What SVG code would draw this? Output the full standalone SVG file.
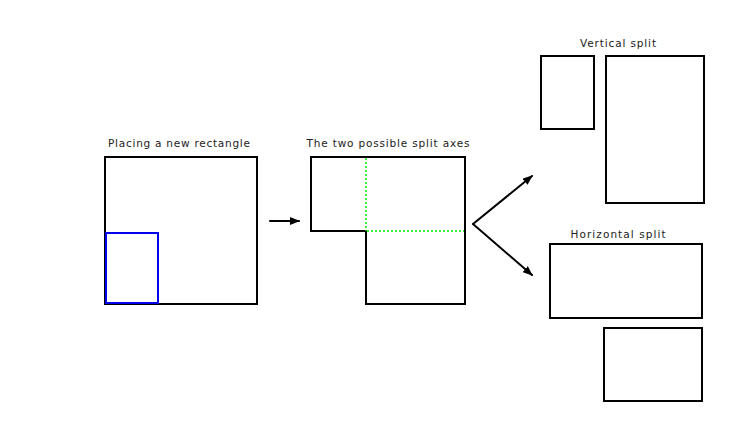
<svg xmlns="http://www.w3.org/2000/svg" width="739" height="423" viewBox="0 0 739 423">
<style>
.box{fill:none;stroke:#000;stroke-width:2}
.lbl{font-family:"DejaVu Sans",sans-serif;font-size:10.5px;fill:#222;text-anchor:middle}
.split{fill:none;stroke:#00ee00;stroke-width:1.5;stroke-dasharray:2 2}
.conn{fill:none;stroke:#000;stroke-width:2;stroke-linecap:round}
</style>
<defs>
<marker id="ah" markerWidth="10" markerHeight="8" refX="9" refY="4" orient="auto" markerUnits="userSpaceOnUse">
<path d="M0,0 L10,4 L0,8 Z" fill="#000"/>
</marker>
</defs>
<rect width="739" height="423" fill="#fff"/>
<g id="placing">
<text class="lbl" x="179" y="147" textLength="142">Placing a new rectangle</text>
<rect class="box" x="105" y="157" width="152" height="147"/>
<rect x="106" y="233" width="52" height="70" fill="none" stroke="#0000ee" stroke-width="2"/>
</g>
<g id="axes">
<text class="lbl" x="388" y="147" textLength="163">The two possible split axes</text>
<path class="box" d="M311,157 H465 V304 H366 V231 H311 Z"/>
<path class="split" d="M366,158 V231 M367,231 H464"/>
</g>
<g id="vertical">
<text class="lbl" x="618" y="47" textLength="76">Vertical split</text>
<rect class="box" x="541" y="56" width="53" height="73"/>
<rect class="box" x="606" y="56" width="98" height="147"/>
</g>
<g id="horizontal">
<text class="lbl" x="618" y="238" textLength="95">Horizontal split</text>
<rect class="box" x="550" y="244" width="152" height="74"/>
<rect class="box" x="604" y="328" width="98" height="73"/>
</g>
<g id="connectors">
<line class="conn" x1="270" y1="221" x2="299" y2="221" marker-end="url(#ah)"/>
<line class="conn" x1="473" y1="224" x2="532" y2="176" marker-end="url(#ah)"/>
<line class="conn" x1="473" y1="224" x2="532" y2="275" marker-end="url(#ah)"/>
</g>
</svg>
